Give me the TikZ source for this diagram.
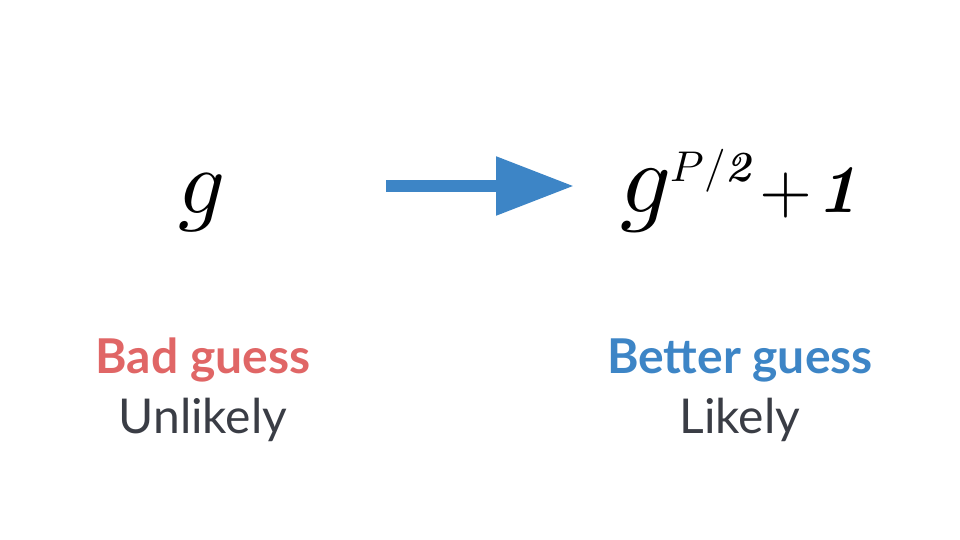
\documentclass[tikz,border=0pt]{standalone}
\usepackage{amsmath}
\usepackage{fontspec}
\usepackage{unicode-math}
\usepackage{xcolor}
\setmainfont{Lato}
\setmathfont{Latin Modern Math}
\newfontfamily\lmfont{Latin Modern Roman}
\newcommand\numit[1]{\text{\lmfont\bfseries\itshape #1}}
\usetikzlibrary{arrows.meta}

\definecolor{badred}{HTML}{E06666}
\definecolor{goodblue}{HTML}{3D85C6}
\definecolor{textgray}{HTML}{3A3D45}

\begin{document}
\begin{tikzpicture}[x=1pt, y=-1pt,
    formula/.style = {inner sep=0pt, font=\fontsize{92}{110}\selectfont},
    verdict/.style = {inner sep=0pt, font=\fontsize{48}{56}\selectfont\bfseries},
    chance/.style = {inner sep=0pt, text=textgray, font=\fontsize{48}{56}\selectfont},
    bigarrow/.style = {goodblue, line width=12pt, -{Triangle[length=78pt, width=56pt]}}]
    \useasboundingbox (0,0) rectangle (960,540);
    \node[formula] (g) at (202,203) {$g$};
    \node[formula, anchor=base west, font=\fontsize{100}{110}\selectfont] (gp) at (620,212)
        {$g$\raisebox{31pt}{\fontsize{43}{46}\selectfont$P/\numit{2}$}%
         \hspace{9pt}{\fontsize{68}{72}\selectfont$+$\hspace{5pt}\numit{1}}};
    \coordinate (from) at (386,186);
    \coordinate (to)   at (574,186);
    \draw[bigarrow] (from) -- (to);
    \node[verdict, text=badred]   (bad)    at (203,360) {Bad guess};
    \node[chance]                 (unlik)  at (203,420) {Unlikely};
    \node[verdict, text=goodblue] (better) at (740,360) {Better guess};
    \node[chance]                 (lik)    at (740,420) {Likely};
\end{tikzpicture}
\end{document}
